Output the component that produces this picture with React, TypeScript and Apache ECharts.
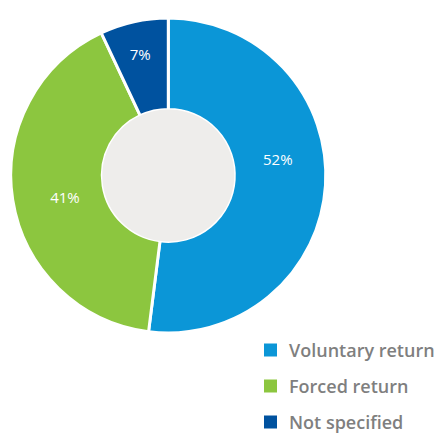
import React, { useEffect, useRef } from "react";
import * as echarts from "echarts";

const categories = ["Voluntary return", "Forced return", "Not specified"];
const values = [52, 41, 7];
const colors = ["#0b96d7", "#8cc63f", "#00529f"];
const labelOffsets = [
  [-5, -24],
  [10, 4],
  [-3, -9],
];

export default function App() {
  const ref = useRef<HTMLDivElement>(null);
  useEffect(() => {
    if (!ref.current) return;
    const chart = echarts.init(ref.current, null, { renderer: "svg" });
    chart.setOption({
      animation: false,
      backgroundColor: "#ffffff",
      legend: {
        orient: "vertical",
        left: 262,
        top: 341,
        width: 181,
        height: 120,
        padding: 0,
        itemWidth: 15,
        itemHeight: 15,
        itemGap: 18,
        icon: "rect",
        data: categories,
        textStyle: {
          color: "#7f7f7f",
          fontSize: 18,
          lineHeight: 15,
          fontWeight: 600,
          fontFamily: "Open Sans",
          padding: [0, 0, 0, 6],
        },
      },
      series: [
        {
          type: "pie",
          center: [168.3, 175.4],
          radius: [66, 157.5],
          startAngle: 90,
          clockwise: true,
          avoidLabelOverlap: false,
          itemStyle: { borderColor: "#ffffff", borderWidth: 3 },
          label: {
            show: true,
            position: "inside",
            formatter: "{d}%",
            color: "#ffffff",
            fontSize: 15,
            fontFamily: "Open Sans",
          },
          labelLine: { show: false },
          labelLayout: (params: any) => {
            const o = labelOffsets[params.dataIndex] || [0, 0];
            return { dx: o[0], dy: o[1] };
          },
          emphasis: { disabled: true },
          data: categories.map((name, i) => ({
            name,
            value: values[i],
            itemStyle: { color: colors[i] },
          })),
        },
        {
          type: "pie",
          center: [168.3, 175.4],
          radius: [0, 66],
          silent: true,
          z: 5,
          label: { show: false },
          labelLine: { show: false },
          itemStyle: { color: "#eeedeb" },
          emphasis: { disabled: true },
          tooltip: { show: false },
          data: [{ name: "__hole", value: 1 }],
        },
      ],
    });
    return () => chart.dispose();
  }, []);
  return (
    <div
      ref={ref}
      style={{ position: "fixed", left: 0, top: 0, width: 443, height: 433 }}
    />
  );
}
